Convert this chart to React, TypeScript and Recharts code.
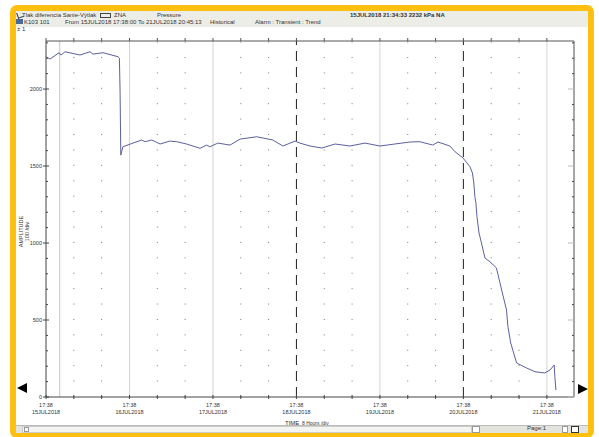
import React from 'react';
import { LineChart, Line, XAxis, YAxis, ReferenceLine } from 'recharts';

// ── Data (hours since 15JUL2018 17:38, pressure kPa) ──────────────────────────

const HOURS = [
  0, 1.15, 3.74, 4.31, 5.46, 9.77, 12.65, 13.5, 16.4, 20.7, 21.1, 21.3, 21.5,
  22.1, 22.7, 25, 27.5, 28.5, 30.4, 32.8, 35.6, 37.6, 40.4, 44.3, 46.2, 47.1,
  49.4, 52.9, 55.8, 60.6, 65.2, 68.1, 71.6, 73, 75.9, 79.3, 83.1, 87.4, 91.7,
  96, 100.3, 104.6, 107.5, 111.2, 112.7, 116.1, 117.6, 119.9, 121.9, 122.6,
  123, 123.3, 123.6, 123.9, 124.5, 125.2, 126.2, 127.6, 129.5, 131, 132.4,
  132.8, 133.6, 134.2, 135.3, 138.2, 140.6, 143.4, 144.9, 146.1, 146.3, 146.6,
];
const PRESSURE = [
  2210, 2195, 2236, 2221, 2242, 2221, 2242, 2227, 2236, 2210, 2201, 1980, 1571,
  1625, 1630, 1649, 1669, 1658, 1669, 1643, 1662, 1658, 1643, 1615, 1636, 1625,
  1649, 1636, 1675, 1690, 1669, 1630, 1662, 1649, 1630, 1617, 1643, 1630, 1649,
  1630, 1643, 1656, 1658, 1636, 1656, 1630, 1593, 1552, 1495, 1455,
  1390, 1301, 1260, 1171, 1065, 1000, 903, 879, 838, 695, 565,
  457, 351, 305, 221, 188, 164, 156, 175, 208, 132, 45,
];

const DAY_LABELS = ['15JUL2018', '16JUL2018', '17JUL2018', '18JUL2018', '19JUL2018', '20JUL2018', '21JUL2018'];
const DAY_TIME = '17:38';
const X_TICKS = [0, 8, 16, 24, 32, 40, 48, 56, 64, 72, 80, 88, 96, 104, 112, 120, 128, 136, 144];
const Y_TICKS = [0, 100, 200, 300, 400, 500, 600, 700, 800, 900, 1000, 1100, 1200, 1300, 1400, 1500, 1600, 1700, 1800, 1900, 2000, 2100, 2200, 2300];
const GRID_HOURS = [8, 16, 32, 40, 56, 64, 80, 88, 104, 112, 128, 136];
const DAY_LINES_LIGHT = [24, 48, 96, 144];
const DAY_LINES_DASHED = [72, 120];
const CURSOR_HOUR = 3.94;
const X_MAX = 151.8;
const Y_MAX = 2312;

const chartData = HOURS.map((h, i) => ({ h, v: PRESSURE[i] }));

const FONT = '"Liberation Sans", Arial, sans-serif';

// ── Ticks ─────────────────────────────────────────────────────────────────────

const BottomTick = (props: any) => {
  const { x, y, payload } = props;
  const v = payload.value as number;
  const major = v % 24 === 0;
  return (
    <g>
      <line x1={x} y1={y - 2} x2={x} y2={y + 2} stroke="#444" />
      {major && (
        <>
          <text x={x} y={y + 10} textAnchor="middle" fontSize={5.5} fill="#333">{DAY_TIME}</text>
          <text x={x} y={y + 17} textAnchor="middle" fontSize={5.5} fill="#333">{DAY_LABELS[v / 24]}</text>
        </>
      )}
    </g>
  );
};

const TopTick = (props: any) => {
  const { x, y } = props;
  return <line x1={x} y1={y} x2={x} y2={y - 3} stroke="#555" />;
};

const LeftTick = (props: any) => {
  const { x, y, payload } = props;
  const v = payload.value as number;
  const major = v % 500 === 0;
  return (
    <g>
      {major ? (
        <>
          <line x1={x - 3} y1={y} x2={x + 3} y2={y} stroke="#444" />
          <text x={x - 4} y={y + 2} textAnchor="end" fontSize={5.5} fill="#333">{v}</text>
        </>
      ) : (
        <line x1={x} y1={y} x2={x + 2} y2={y} stroke="#444" />
      )}
    </g>
  );
};

const RightTick = (props: any) => {
  const { x, y, payload } = props;
  const v = payload.value as number;
  const major = v % 500 === 0;
  return <line x1={x - (major ? 6 : 2)} y1={y} x2={x} y2={y} stroke={major ? '#bbb' : '#444'} />;
};

// grid column of dots, dash pattern starts at the bottom so dots sit on every 100 units
const DotColumn = (props: any) => {
  const { x1, y1, x2, y2 } = props;
  const top = Math.min(y1, y2);
  const bottom = Math.max(y1, y2);
  return <line x1={x1} y1={bottom} x2={x2} y2={top} stroke="#777" strokeWidth={1} strokeDasharray="1 14.41" />;
};

// ── App ───────────────────────────────────────────────────────────────────────

const txt = (left: number, top: number, s: string, extra: React.CSSProperties = {}) => (
  <div style={{ position: 'absolute', left, top, fontSize: 6, lineHeight: '7px', color: '#333', whiteSpace: 'nowrap', ...extra }}>{s}</div>
);

export default function App() {
  return (
    <div style={{ position: 'absolute', left: 0, top: 0, width: 599, height: 437, background: '#fff', overflow: 'hidden', fontFamily: FONT }}>
      {/* yellow frame */}
      <div style={{ position: 'absolute', left: 10, top: 5, width: 572, height: 421, border: '6px solid #FDC010', borderRadius: 7, background: '#fff' }} />
      {/* header bar */}
      <div style={{ position: 'absolute', left: 16, top: 11, width: 572, height: 16, background: '#EDEDE7' }} />
      <div style={{ position: 'absolute', left: 17, top: 12, width: 5, height: 5, borderLeft: '1px solid #333', borderBottom: '1px solid #333', transform: 'rotate(-20deg)' }} />
      {txt(22, 12, 'Tlak diferencia Sanie-Výtlak')}
      <div style={{ position: 'absolute', left: 100, top: 13, width: 9, height: 3, border: '1px solid #444' }} />
      {txt(114, 12, 'ZNA')}
      {txt(157, 12, 'Pressure')}
      {txt(350, 12, '15JUL2018 21:34:33  2232 kPa    NA', { fontWeight: 700 })}
      <div style={{ position: 'absolute', left: 16, top: 19, width: 7, height: 5, background: '#4a6a9a' }} />
      {txt(24, 19, 'K103 101')}
      {txt(65, 19, 'From 15JUL2018 17:38:00 To 21JUL2018 20:45:13')}
      {txt(210, 19, 'Historical')}
      {txt(255, 19, 'Alarm : Transient : Trend')}
      {txt(17, 26, '± 1')}

      {/* y axis title */}
      <div style={{ position: 'absolute', left: 4, top: 226, width: 40, textAlign: 'center', transform: 'rotate(-90deg)', fontSize: 5.5, lineHeight: '5.5px', color: '#333' }}>
        AMPLITUDE<br />100 /div
      </div>

      {/* scroll arrows */}
      <div style={{ position: 'absolute', left: 17, top: 383, width: 0, height: 0, borderTop: '5px solid transparent', borderBottom: '5px solid transparent', borderRight: '10px solid #000' }} />
      <div style={{ position: 'absolute', left: 578, top: 384, width: 0, height: 0, borderTop: '5px solid transparent', borderBottom: '5px solid transparent', borderLeft: '10px solid #000' }} />

      {/* x axis title */}
      {txt(285, 420, 'TIME')}
      {txt(302, 420, '8 Hours /div', { fontSize: 5 })}

      {/* bottom bar */}
      <div style={{ position: 'absolute', left: 16, top: 425, width: 572, height: 7, background: '#E4E4DE', borderTop: '1px solid #bbb' }} />
      <div style={{ position: 'absolute', left: 22, top: 426, width: 448, height: 5, background: '#F4F4F0', border: '1px solid #ccc' }} />
      <div style={{ position: 'absolute', left: 24, top: 427, width: 3, height: 3, border: '1px solid #999', background: '#fff' }} />
      <div style={{ position: 'absolute', left: 472, top: 426, width: 6, height: 5, border: '1px solid #999', background: '#fff' }} />
      {txt(527, 425, 'Page:1')}
      <div style={{ position: 'absolute', left: 562, top: 426, width: 4, height: 5, border: '1px solid #999', background: '#fff' }} />
      <div style={{ position: 'absolute', left: 571, top: 426, width: 6, height: 5, border: '1px solid #333', background: '#fff' }} />

      <div style={{ position: 'absolute', left: 0, top: 0 }}>
        <LineChart width={599} height={437} data={chartData} margin={{ top: 0, right: 0, bottom: 0, left: 0 }} style={{ fontFamily: FONT }}>
          <XAxis
            xAxisId="bottom" dataKey="h" type="number" domain={[0, X_MAX]} ticks={X_TICKS} interval={0}
            height={40} tickSize={0} tickMargin={0} tick={BottomTick} tickLine={false}
            axisLine={{ stroke: '#444' }} allowDataOverflow
          />
          <XAxis
            xAxisId="top" orientation="top" dataKey="h" type="number" domain={[0, X_MAX]} ticks={X_TICKS} interval={0}
            height={41} tickSize={0} tickMargin={0} tick={TopTick} tickLine={false}
            axisLine={{ stroke: '#555' }} allowDataOverflow
          />
          <YAxis
            yAxisId="left" type="number" domain={[0, Y_MAX]} ticks={Y_TICKS} interval={0}
            width={46} tickSize={0} tickMargin={0} tick={LeftTick} tickLine={false}
            axisLine={{ stroke: '#444' }} allowDataOverflow
          />
          <YAxis
            yAxisId="right" orientation="right" type="number" domain={[0, Y_MAX]} ticks={Y_TICKS} interval={0}
            width={25} tickSize={0} tickMargin={0} tick={RightTick} tickLine={false}
            axisLine={{ stroke: '#888', strokeWidth: 1.5 }} allowDataOverflow
          />

          {GRID_HOURS.map((h) => (
            <ReferenceLine key={`g${h}`} x={h} xAxisId="bottom" yAxisId="left" shape={DotColumn} />
          ))}
          {DAY_LINES_LIGHT.map((h) => (
            <ReferenceLine key={`d${h}`} x={h} xAxisId="bottom" yAxisId="left" stroke="#d4d4d4" strokeWidth={1} />
          ))}
          {DAY_LINES_DASHED.map((h) => (
            <ReferenceLine key={`k${h}`} x={h} xAxisId="bottom" yAxisId="left" stroke="#222" strokeWidth={1} strokeDasharray="10 6" />
          ))}
          <ReferenceLine x={CURSOR_HOUR} xAxisId="bottom" yAxisId="left" stroke="#c4c4c4" strokeWidth={1} />

          <Line
            xAxisId="bottom" yAxisId="left" type="linear" dataKey="v" stroke="#5c609e" strokeWidth={1}
            dot={false} isAnimationActive={false}
          />
        </LineChart>
      </div>
    </div>
  );
}
